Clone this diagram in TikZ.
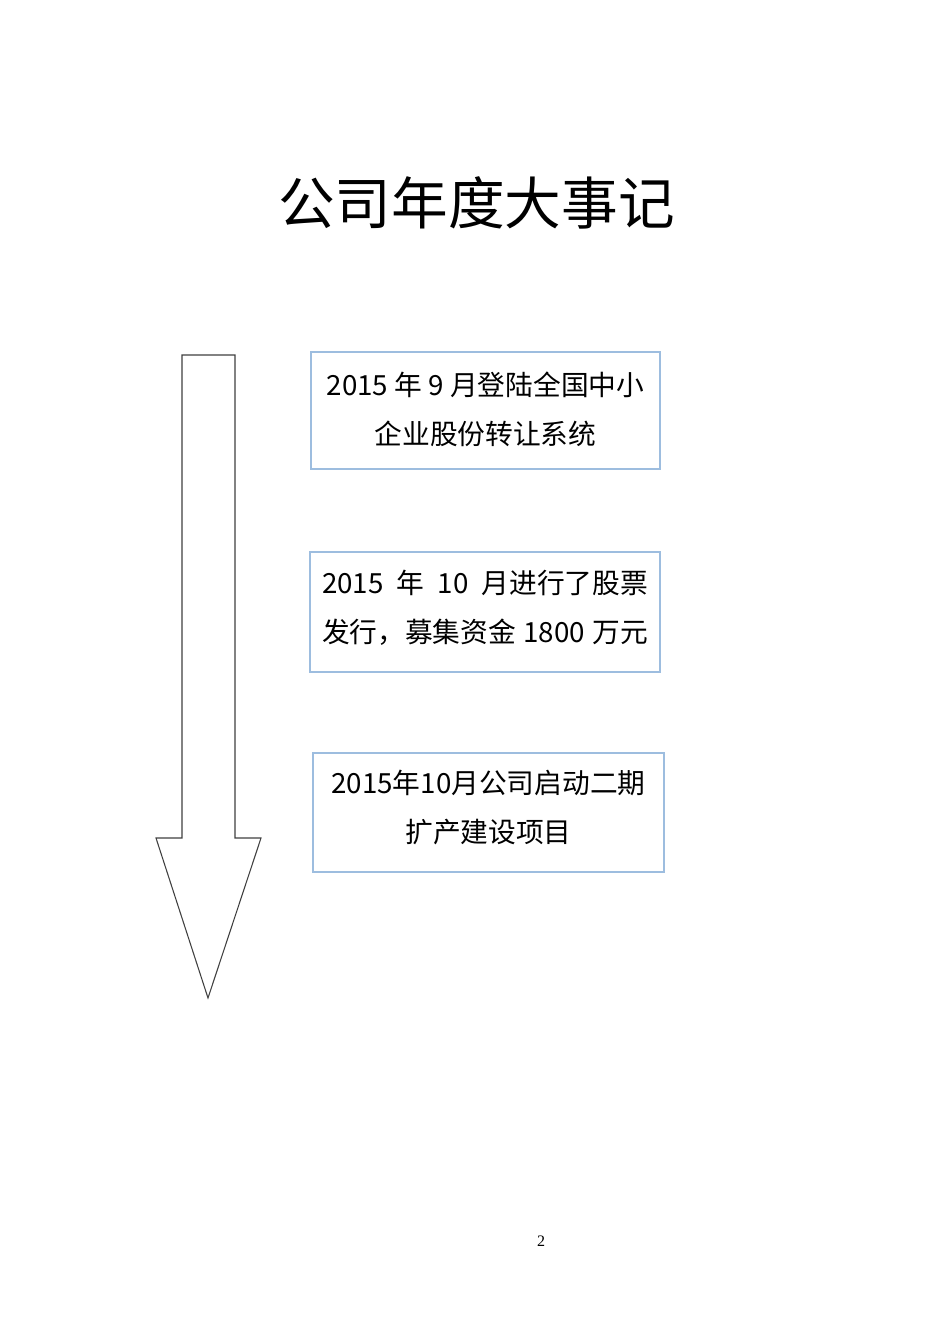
\documentclass[tikz,border=0pt]{standalone}
\usepackage{fontspec}
\newfontfamily\cjk{Noto Sans CJK SC}
\setmainfont{Liberation Serif}
\begin{document}
\begin{tikzpicture}[x=0.75pt,y=-0.75pt,
  eventbox/.style={draw=boxblue,line width=1pt,fill=white,inner sep=0pt},
  eventtext/.style={align=center,inner sep=0pt,
    font=\cjk\fontsize{20.8}{36.75}\selectfont},
  arrowline/.style={draw=black!75,line width=0.8pt}]
\definecolor{boxblue}{HTML}{9DBDDF}
\useasboundingbox (0,0) rectangle (950,1344);
\fill[white] (0,0) rectangle (950,1344);
% title
\node[font=\cjk\fontsize{42.5}{48}\selectfont] (title) at (476.5,203) {公司年度大事记};
% timeline arrow
\draw[arrowline] (182,355) coordinate (atop) -- (235,355) -- (235,838) -- (261,838)
  -- (208,998) coordinate (atip) -- (156,838) -- (182,838) -- cycle;
% event boxes
\node[eventbox,minimum width=261.75pt,minimum height=87.75pt] (e1) at (485.5,410.5) {};
\node[eventtext] (e1t) at ([yshift=1pt]e1.center)
  {2015 年 9 月登陆全国中小\\企业股份转让系统};
\node[eventbox,minimum width=262.5pt,minimum height=90pt] (e2) at (485,612) {};
\node[eventtext] (e2t) at ([yshift=3.5pt]e2.center)
  {\makebox[244.5pt][s]{2015\hfill 年\hfill 10\hfill 月进行了股票}\\
   \makebox[244.5pt][s]{发行，募集资金\hfill\ 1800\hfill\ 万元}};
\node[eventbox,minimum width=263.25pt,minimum height=89.25pt] (e3) at (488.5,812.5) {};
\node[eventtext] (e3t) at ([yshift=3.5pt]e3.center)
  {2015年10月公司启动二期\\扩产建设项目};
% page number
\node[font=\fontsize{12}{14}\selectfont] (pg) at (541,1241) {2};
\end{tikzpicture}
\end{document}
